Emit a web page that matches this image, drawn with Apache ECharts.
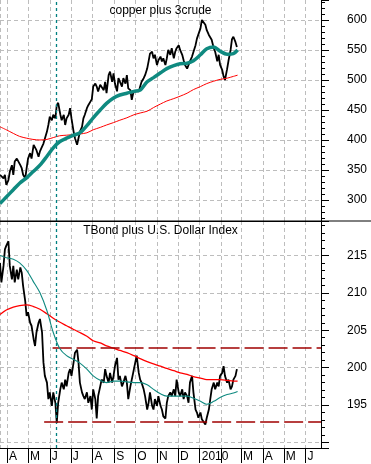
<!DOCTYPE html>
<html><head><meta charset="utf-8">
<script src="https://cdn.jsdelivr.net/npm/echarts@6/dist/echarts.min.js"></script>
<style>html,body{margin:0;padding:0;background:#fff}#c{width:371px;height:464px}</style>
</head><body><div id="c"></div>
<script>
// ---------- DATA ----------
const axisStart = '2009-03-22';
const axisEnd = '2010-06-23';
const monthLetters = ['J','F','M','A','M','J','J','A','S','O','N','D'];
const topTitle = 'copper plus 3crude';
const bottomTitle = 'TBond plus U.S. Dollar Index';

const priceDates = ['2009-03-22','2009-03-24','2009-03-27','2009-03-29','2009-03-31','2009-04-03','2009-04-05','2009-04-08','2009-04-10','2009-04-12','2009-04-15','2009-04-17','2009-04-20','2009-04-22','2009-04-24','2009-04-27','2009-04-29','2009-05-01','2009-05-04','2009-05-06','2009-05-09','2009-05-11','2009-05-13','2009-05-16','2009-05-18','2009-05-21','2009-05-23','2009-05-25','2009-05-28','2009-05-30','2009-06-01','2009-06-04','2009-06-06','2009-06-09','2009-06-11','2009-06-13','2009-06-16','2009-06-18','2009-06-21','2009-06-23','2009-06-25','2009-06-28','2009-06-30','2009-07-02','2009-07-05','2009-07-07','2009-07-10','2009-07-12','2009-07-14','2009-07-17','2009-07-19','2009-07-21','2009-07-24','2009-07-26','2009-07-29','2009-07-31','2009-08-02','2009-08-05','2009-08-07','2009-08-09','2009-08-12','2009-08-14','2009-08-17','2009-08-19','2009-08-21','2009-08-24','2009-08-26','2009-08-29','2009-08-31','2009-09-02','2009-09-05','2009-09-07','2009-09-09','2009-09-12','2009-09-14','2009-09-17','2009-09-19','2009-09-21','2009-09-24','2009-09-26','2009-09-28','2009-10-01','2009-10-03','2009-10-06','2009-10-08','2009-10-10','2009-10-13','2009-10-15','2009-10-18','2009-10-20','2009-10-22','2009-10-25','2009-10-27','2009-10-29','2009-11-01','2009-11-03','2009-11-06','2009-11-08','2009-11-10','2009-11-13','2009-11-15','2009-11-17','2009-11-20','2009-11-22','2009-11-25','2009-11-27','2009-11-29','2009-12-02','2009-12-04','2009-12-07','2009-12-09','2009-12-11','2009-12-14','2009-12-16','2009-12-18','2009-12-21','2009-12-23','2009-12-26','2009-12-28','2009-12-30','2010-01-02','2010-01-04','2010-01-06','2010-01-09','2010-01-11','2010-01-14','2010-01-16','2010-01-18','2010-01-21','2010-01-23','2010-01-26','2010-01-28','2010-01-30','2010-02-02','2010-02-04','2010-02-06','2010-02-09','2010-02-11','2010-02-14','2010-02-16','2010-02-18','2010-02-21','2010-02-23'];
const copperValues = [342,344,336,342,325,333,347,358,342,364,369,372,358,353,342,336,353,369,378,369,392,394,383,372,381,389,394,392,414,425,439,433,442,436,458,462,443,433,442,425,436,442,453,436,414,403,392,403,414,422,436,442,453,458,464,468,489,494,489,481,492,494,483,497,478,508,514,497,511,494,481,503,500,489,503,494,508,486,483,467,478,481,483,481,489,497,503,508,519,531,544,547,536,542,525,533,539,531,536,525,536,550,542,553,536,547,553,558,550,542,533,525,519,525,531,539,542,558,569,572,586,600,603,592,583,575,578,567,553,547,531,542,525,517,506,500,518,532,550,568,572,563,555];
const tbondValues = [214.0,211.4,213.6,215.8,216.3,216.9,213.6,211.8,213.6,211.4,213.1,211.8,213.4,212.7,210.9,208.9,206.9,207.4,206.0,205.6,203.8,202.9,204.7,206.0,206.5,204.7,200.7,198.9,198.0,195.8,196.7,194.9,196.7,195.3,192.6,195.3,197.1,198.0,197.1,198.4,197.5,199.3,199.8,198.9,200.7,202.0,202.4,200.7,198.0,196.7,196.2,195.8,196.7,195.3,196.2,194.4,197.1,195.8,193.2,196.2,197.5,198.4,198.0,199.8,198.9,198.0,199.3,198.0,198.9,200.2,201.3,198.4,198.9,197.5,198.0,198.9,198.0,195.8,197.5,198.4,199.3,200.7,201.6,199.3,198.4,198.0,197.1,196.2,194.4,195.3,196.7,194.9,194.4,195.8,194.9,196.2,194.9,194.4,193.5,193.2,195.3,196.2,196.7,196.2,197.1,196.2,198.4,196.7,196.2,197.1,195.8,196.7,196.2,195.3,198.0,198.9,196.7,194.4,194.0,193.3,194.0,193.1,193.3,192.4,193.3,194.4,195.8,197.1,198.0,197.1,198.0,197.5,198.9,199.3,200.2,198.9,198.0,198.4,197.1,197.5,198.4,198.9,199.8];

const maDates = ['2009-03-22','2009-03-31','2009-04-10','2009-04-19','2009-04-29','2009-05-08','2009-05-18','2009-05-28','2009-06-06','2009-06-15','2009-06-25','2009-07-05','2009-07-14','2009-07-24','2009-08-02','2009-08-12','2009-08-21','2009-08-31','2009-09-09','2009-09-19','2009-09-29','2009-10-08','2009-10-18','2009-10-27','2009-11-06','2009-11-15','2009-11-25','2009-12-04','2009-12-14','2009-12-23','2010-01-02','2010-01-11','2010-01-21','2010-01-30','2010-02-09','2010-02-18','2010-02-24'];
const copperMAshort = [294,305,317,328,337,347,358,373,387,397,403,408,412,424,437,450,461,470,475,478,481,483,497,504,512,519,524,527,528,532,542,552,555,548,543,544,550];
const copperMAlong = [422,417,411,406,403,401,400,401,404,407,408,409,410,412,417,421,425,429,433,437,442,445,448,454,460,465,469,473,478,484,489,494,498,501,503,506,508];
const tbondMAshort = [215.0,214.7,214.5,214.0,213.0,211.6,210.0,207.6,204.7,202.6,201.6,201.1,200.6,199.8,198.9,198.3,198.0,198.2,198.2,198.1,198.0,198.0,197.7,197.1,196.5,196.2,196.2,196.2,196.2,195.9,195.5,195.1,195.5,196.0,196.4,196.6,196.8];
const tbondMAlong = [207.1,207.7,208.1,208.3,208.4,208.2,207.8,207.2,206.6,206.1,205.6,205.1,204.7,204.2,203.6,203.3,202.9,202.6,202.3,202.0,201.6,201.2,200.8,200.5,200.2,199.9,199.6,199.3,199.1,198.8,198.6,198.4,198.4,198.4,198.3,198.2,198.2];

const markerDate = '2009-06-10';
const resistance = {from: '2009-06-05', level: 202.6};
const support = {from: '2009-05-24', level: 192.8};

// ---------- CHART ----------
const FONT = 'Liberation Sans, Arial, sans-serif';
const zip = (a, b) => a.map((d, i) => [d, b[i]]);
const gridLine = {show: true, lineStyle: {color: '#bdbdbd', type: [4, 3], width: 1}};

function xAxisBase(gridIndex, showLabels) {
  return {
    type: 'time', gridIndex, min: axisStart, max: axisEnd,
    minInterval: 28 * 864e5, maxInterval: 31 * 864e5,
    axisLine: {show: true, lineStyle: {color: '#000', width: 1}},
    axisTick: {show: showLabels, length: 15, lineStyle: {color: '#000'}},
    axisLabel: showLabels ? {
      show: true, align: 'left', margin: 3, padding: [0, 0, 0, 2],
      color: '#000', fontSize: 12, fontFamily: FONT, hideOverlap: false,
      showMinLabel: false, showMaxLabel: false,
      formatter: v => {
        const d = new Date(v);
        const m = d.getMonth();
        if (d.getDate() !== 1) return '';
        if (m === 0) return String(d.getFullYear());
        if (m === 1 && d.getFullYear() === 2010) return '';
        return monthLetters[m];
      }
    } : {show: false},
    splitLine: gridLine
  };
}
function yAxisBase(gridIndex, min, max, splitNumber, hideBelow) {
  return {
    type: 'value', gridIndex, position: 'right', min, max, splitNumber, scale: true,
    axisLine: {show: true, lineStyle: {color: '#000', width: 1}},
    axisTick: {show: true, length: 8, lineStyle: {color: '#000'}},
    minorTick: {show: true, splitNumber: 5, length: 4, lineStyle: {color: '#000'}},
    axisLabel: {color: '#000', fontSize: 12, fontFamily: FONT, margin: 26, padding: [4, 0, 0, 0],
      showMinLabel: false, showMaxLabel: false,
      formatter: v => (v < hideBelow ? '' : String(v))},
    splitLine: Object.assign({showMinLine: false, showMaxLine: false}, gridLine)
  };
}

const chart = echarts.init(document.getElementById('c'), null, {renderer: 'canvas'});
chart.setOption({
  animation: false,
  backgroundColor: '#fff',
  grid: [
    {left: 0, right: 50, top: 0, height: 221, outerBoundsMode: 'none'},
    {left: 0, right: 50, top: 221, height: 227, outerBoundsMode: 'none'}
  ],
  xAxis: [xAxisBase(0, false), xAxisBase(1, true)],
  yAxis: [yAxisBase(0, 265, 633.3, 7, 270), yAxisBase(1, 189.26, 219.6, 6, 191)],
  graphic: [
    {type: 'line', shape: {x1: 0, y1: 221, x2: 371, y2: 221}, style: {stroke: '#000', lineWidth: 1}, z: 100},
    {type: 'text', style: {x: 160.5, y: 5, text: topTitle, textAlign: 'center', textVerticalAlign: 'top', font: '12px ' + FONT, fill: '#000'}, z: 100},
    {type: 'text', style: {x: 160.5, y: 225, text: bottomTitle, textAlign: 'center', textVerticalAlign: 'top', font: '12px ' + FONT, fill: '#000'}, z: 100}
  ],
  series: [
    {type: 'line', xAxisIndex: 0, yAxisIndex: 0, data: zip(priceDates, copperValues), symbol: 'none',
     lineStyle: {color: '#000', width: 1.8}, z: 3,
     markLine: {silent: true, symbol: 'none', label: {show: false},
       lineStyle: {color: '#008080', type: [3, 3], width: 1.3}, data: [{xAxis: markerDate}]}},
    {type: 'line', xAxisIndex: 0, yAxisIndex: 0, data: zip(maDates, copperMAlong), symbol: 'none', smooth: 0.3,
     lineStyle: {color: '#ff0000', width: 1}, z: 4},
    {type: 'line', xAxisIndex: 0, yAxisIndex: 0, data: zip(maDates, copperMAshort), symbol: 'none', smooth: 0.3,
     lineStyle: {color: '#0f8a80', width: 3.5}, z: 5},
    {type: 'line', xAxisIndex: 1, yAxisIndex: 1, data: zip(priceDates, tbondValues), symbol: 'none',
     lineStyle: {color: '#000', width: 1.8}, z: 3,
     markLine: {silent: true, symbol: 'none', label: {show: false}, data: [
       {xAxis: markerDate, lineStyle: {color: '#008080', type: [3, 3], width: 1.3}},
       [{coord: [resistance.from, resistance.level], lineStyle: {color: '#a00000', type: [19, 5], width: 1.6}}, {coord: [axisEnd, resistance.level]}],
       [{coord: [support.from, support.level], lineStyle: {color: '#a00000', type: [19, 5], width: 1.6}}, {coord: [axisEnd, support.level]}]
     ]}},
    {type: 'line', xAxisIndex: 1, yAxisIndex: 1, data: zip(maDates, tbondMAlong), symbol: 'none', smooth: 0.3,
     lineStyle: {color: '#ff0000', width: 1.3}, z: 4},
    {type: 'line', xAxisIndex: 1, yAxisIndex: 1, data: zip(maDates, tbondMAshort), symbol: 'none', smooth: 0.3,
     lineStyle: {color: '#0f8a80', width: 1.1}, z: 5}
  ]
});
</script>
</body></html>
